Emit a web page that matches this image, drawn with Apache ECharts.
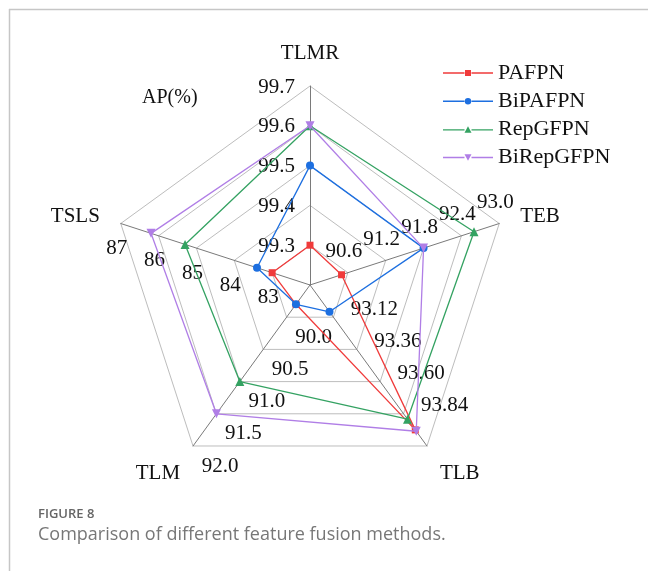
<!DOCTYPE html>
<html>
<head>
<meta charset="utf-8">
<script src="https://cdn.jsdelivr.net/npm/echarts@6/dist/echarts.min.js"></script>
<style>
  html, body { margin: 0; padding: 0; background: #fff; }
  #chart { width: 648px; height: 571px; }
</style>
</head>
<body>
<div id="chart"></div>
<script>
// Radar axes, listed counter-clockwise from the top
const indicatorNames = ['TLMR', 'TSLS', 'TLM', 'TLB', 'TEB'];
const indicatorMin = [99.2, 82, 89.5, 92.88, 90.0];
const indicatorMax = [99.7, 87, 92.0, 94.08, 93.0];

// Tick labels shown on each axis (ring 1 outward)
const tlmrTicks = ['99.3', '99.4', '99.5', '99.6', '99.7'];
const tslsTicks = ['83', '84', '85', '86', '87'];
const tlmTicks = ['90.0', '90.5', '91.0', '91.5', '92.0'];
const tlbTicks = ['93.12', '93.36', '93.60', '93.84'];
const tebTicks = ['90.6', '91.2', '91.8', '92.4', '93.0'];
const allTicks = [tlmrTicks, tslsTicks, tlmTicks, tlbTicks, tebTicks];

// AP(%) per method, same order as indicatorNames
const methods = ['PAFPN', 'BiPAFPN', 'RepGFPN', 'BiRepGFPN'];
const pafpn = [99.3, 83.0, 89.8, 93.96, 90.5];
const bipafpn = [99.5, 83.4, 89.8, 93.08, 91.8];
const repgfpn = [99.6, 85.3, 91.0, 93.88, 92.6];
const birepgfpn = [99.6, 86.2, 91.5, 93.97, 91.8];
const seriesValues = [pafpn, bipafpn, repgfpn, birepgfpn];

const colors = ['#f03b3b', '#1d6fe0', '#34a262', '#b07ee6'];
const symbols = ['rect', 'circle', 'triangle', 'path://M0,0L10,0L5,9Z'];
const symbolSizes = [7, 8, 9, 9];
// legend glyph: short line on both sides of the marker
const legendLine = 'M0,3L21.5,3L21.5,4.4L0,4.4Z M28.5,3L50,3L50,4.4L28.5,4.4Z ';
const legendIcons = [
  'path://' + legendLine + 'M22,0.7L28,0.7L28,6.7L22,6.7Z',
  'path://' + legendLine + 'M21.8,3.7A3.2,3.2 0 1 1 28.2,3.7A3.2,3.2 0 1 1 21.8,3.7Z',
  'path://' + legendLine + 'M25,0L28.5,6.5L21.5,6.5Z',
  'path://' + legendLine + 'M21.5,0.5L28.5,0.5L25,7Z'
];

const serif = '"Liberation Serif", "Times New Roman", serif';
const tickFont = '21px ' + serif;

// where each axis's tick labels sit relative to the ring point
const tickPlacement = [
  { dx: -15, dy: 1, align: 'right', valign: 'middle' },    // TLMR
  { dx: -4, dy: 25, align: 'center', valign: 'middle' },   // TSLS
  { dx: 27, dy: 20, align: 'center', valign: 'middle' },   // TLM
  { dx: 41, dy: -8, align: 'center', valign: 'middle' },   // TLB
  { dx: -4, dy: -21, align: 'center', valign: 'middle' }   // TEB
];

// names below the centre sit a little further out
const lowNames = ['TLM', 'TLB'];

const chart = echarts.init(document.getElementById('chart'), null, { renderer: 'canvas' });

chart.setOption({
  backgroundColor: '#ffffff',
  animation: false,
  legend: {
    orient: 'vertical',
    left: 443,
    top: 62,
    padding: 0,
    itemWidth: 50,
    itemHeight: 7,
    itemGap: 6.2,
    data: methods.map((m, i) => ({ name: m, icon: legendIcons[i], itemStyle: { color: colors[i] } })),
    textStyle: { fontFamily: serif, fontSize: 22, color: '#111' }
  },
  radar: {
    center: [310, 285],
    radius: 199,
    startAngle: 90,
    splitNumber: 5,
    shape: 'polygon',
    nameGap: 22,
    indicator: indicatorNames.map((n, i) => ({ name: n, min: indicatorMin[i], max: indicatorMax[i] })),
    axisName: {
      color: '#111', fontFamily: serif, fontSize: 21,
      formatter: (name) => lowNames.includes(name) ? '{low|' + name + '}' : name,
      rich: { low: { fontFamily: serif, fontSize: 21, color: '#111', padding: [20, 0, 0, 0] } }
    },
    axisLine: { lineStyle: { color: '#7a7a7a', width: 1 } },
    splitLine: { lineStyle: { color: '#bdbdbd', width: 1 } },
    splitArea: { show: false },
    axisTick: { show: false },
    axisLabel: { show: false }
  },
  series: methods.map((m, i) => ({
    type: 'radar',
    name: m,
    symbol: symbols[i],
    symbolSize: symbolSizes[i],
    itemStyle: { color: colors[i] },
    lineStyle: { color: colors[i], width: 1.3 },
    z: 2 + i,
    data: [{ name: m, value: seriesValues[i] }]
  })),
  graphic: [
    { type: 'line', shape: { x1: 9, y1: 9.5, x2: 648, y2: 9.5 }, style: { stroke: '#c6c6c6', lineWidth: 1.5 } },
    { type: 'line', shape: { x1: 9.5, y1: 9, x2: 9.5, y2: 571 }, style: { stroke: '#c6c6c6', lineWidth: 1.5 } },
    { type: 'text', left: 142, top: 88, style: { text: 'AP(%)', font: '20px ' + serif, fill: '#111' } },
    { type: 'text', left: 38, top: 508, style: { text: 'FIGURE 8', font: '600 13px "Open Sans", sans-serif', fill: '#666' } },
    { type: 'text', left: 38, top: 526, style: { text: 'Comparison of different feature fusion methods.', font: '18px "Open Sans", sans-serif', fill: '#777' } }
  ]
});

// Tick labels, placed at the radar's own ring positions for each axis
const radarCS = chart.getModel().getComponent('radar').coordinateSystem;
const tickTexts = [];
allTicks.forEach((ticks, axisIdx) => {
  const p = tickPlacement[axisIdx];
  ticks.forEach((label) => {
    const pt = radarCS.dataToPoint(parseFloat(label), axisIdx);
    tickTexts.push({
      type: 'text',
      x: pt[0] + p.dx,
      y: pt[1] + p.dy,
      z: 1,
      style: { text: label, font: tickFont, fill: '#111', align: p.align, verticalAlign: p.valign }
    });
  });
});
chart.setOption({ graphic: tickTexts.map((t, i) => Object.assign({ id: 'tick' + i }, t)) });
</script>
</body>
</html>
